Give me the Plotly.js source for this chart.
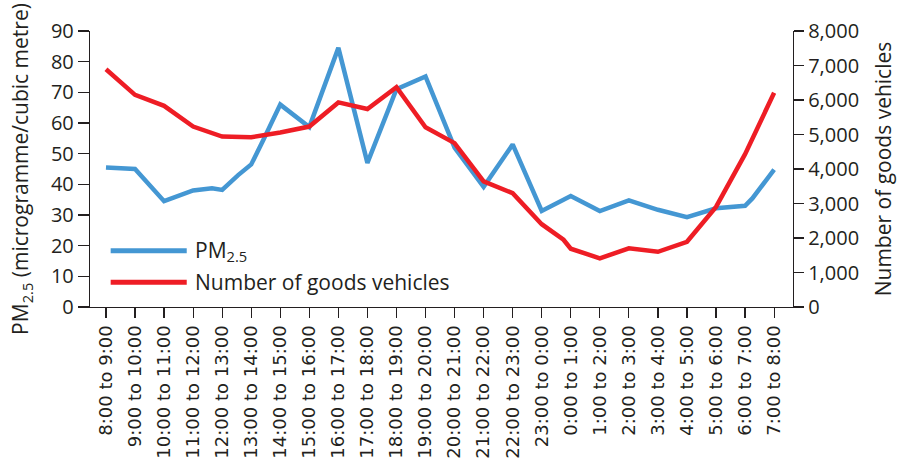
<!DOCTYPE html>
<html>
<head>
<meta charset="utf-8">
<script src="https://cdn.plot.ly/plotly-3.0.1.min.js"></script>
<style>html,body{margin:0;padding:0;background:#fff;}#chart{width:897px;height:463px;}</style>
</head>
<body>
<div id="chart"></div>
<script>
// Time-slot labels (category axis)
const slotLabels = ["8:00 to 9:00","9:00 to 10:00","10:00 to 11:00","11:00 to 12:00","12:00 to 13:00","13:00 to 14:00","14:00 to 15:00","15:00 to 16:00","16:00 to 17:00","17:00 to 18:00","18:00 to 19:00","19:00 to 20:00","20:00 to 21:00","21:00 to 22:00","22:00 to 23:00","23:00 to 0:00","0:00 to 1:00","1:00 to 2:00","2:00 to 3:00","3:00 to 4:00","4:00 to 5:00","5:00 to 6:00","6:00 to 7:00","7:00 to 8:00"];
const slotIndex = slotLabels.map((_, i) => i);

// PM2.5 readings: hours after 8:00 and concentration (microgramme/cubic metre)
const pmHours = [0, 1, 2, 3, 3.65, 4, 4.55, 5, 5.42, 6, 7, 8, 9, 10, 11, 12, 13, 14, 15, 16, 17, 18, 19, 20, 21, 22, 22.25, 23];
const pmValues = [45.5, 45, 34.5, 38, 38.7, 38.2, 43, 46.5, 54.5, 66, 58.7, 84.5, 47, 71, 75.2, 52, 39.2, 53, 31.3, 36.2, 31.3, 34.8, 31.7, 29.3, 32.2, 33, 35.4, 44.8];

// Number of goods vehicles: hours after 8:00 and count
const vehHours = [0, 1, 2, 3, 4, 5, 6, 7, 8, 9, 10, 11, 12, 13, 14, 15, 15.75, 16, 17, 18, 19, 20, 21, 22, 23];
const vehValues = [6890, 6150, 5830, 5230, 4940, 4920, 5060, 5230, 5930, 5740, 6370, 5210, 4750, 3640, 3300, 2400, 1950, 1690, 1410, 1700, 1600, 1890, 2900, 4430, 6210];

const pmName = "PM<sub>2.5</sub>";
const vehName = "Number of goods vehicles";

const ink = "#231f20";
const blue = "#4497d3";
const red = "#ee1d25";
const fontFam = "Open Sans, Noto Sans, sans-serif";
const labelFam = "DejaVu Sans, Liberation Sans, sans-serif";

const traces = [
  {x: pmHours, y: pmValues, type: "scatter", mode: "lines", name: pmName,
   line: {color: blue, width: 4.5}, yaxis: "y", showlegend: false},
  {x: vehHours, y: vehValues, type: "scatter", mode: "lines", name: vehName,
   line: {color: red, width: 4.5}, yaxis: "y2", showlegend: false}
];

const layout = {
  width: 897, height: 463,
  margin: {l: 90, r: 104, t: 31, b: 156},
  paper_bgcolor: "#fff", plot_bgcolor: "#fff",
  font: {family: fontFam, size: 20, color: ink},
  showlegend: false,
  xaxis: {
    range: [-0.55, 23.65], tickvals: slotIndex, ticktext: slotLabels,
    tickangle: -90, ticks: "outside", ticklen: 10, tickwidth: 1.2, tickcolor: ink,
    showline: true, linecolor: ink, linewidth: 1.2, showgrid: false, zeroline: false,
    tickfont: {family: labelFam, size: 18, color: ink}, fixedrange: true
  },
  yaxis: {
    range: [0, 90], dtick: 10, ticks: "outside", ticklen: 11, tickwidth: 1.2, tickcolor: ink,
    showline: true, linecolor: ink, linewidth: 1.2, showgrid: false, zeroline: false,
    tickfont: {size: 20, color: ink},
    title: {text: "PM<sub>2.5</sub> (microgramme/cubic metre)", font: {size: 21, color: ink}, standoff: 16}
  },
  yaxis2: {
    range: [0, 8000], dtick: 1000, tickformat: ",d", overlaying: "y", side: "right",
    ticks: "outside", ticklen: 10, tickwidth: 1.2, tickcolor: ink,
    showline: true, linecolor: ink, linewidth: 1.2, showgrid: false, zeroline: false,
    tickfont: {size: 20, color: ink},
    title: {text: "Number of goods vehicles", font: {size: 21, color: ink}, standoff: 18}
  },
  shapes: [
    {type: "line", xref: "paper", yref: "paper", x0: 0.0294, x1: 0.1376, y0: 0.204, y1: 0.204,
     line: {color: blue, width: 5}},
    {type: "line", xref: "paper", yref: "paper", x0: 0.0294, x1: 0.1376, y0: 0.0895, y1: 0.0895,
     line: {color: red, width: 5}}
  ],
  annotations: [
    {xref: "paper", yref: "paper", x: 0.146, y: 0.204, xanchor: "left", yanchor: "middle",
     text: pmName, showarrow: false, font: {size: 21, color: ink}},
    {xref: "paper", yref: "paper", x: 0.146, y: 0.0895, xanchor: "left", yanchor: "middle",
     text: vehName, showarrow: false, font: {size: 21, color: ink}}
  ]
};

Plotly.newPlot("chart", traces, layout, {displayModeBar: false, staticPlot: true});
</script>
</body>
</html>
